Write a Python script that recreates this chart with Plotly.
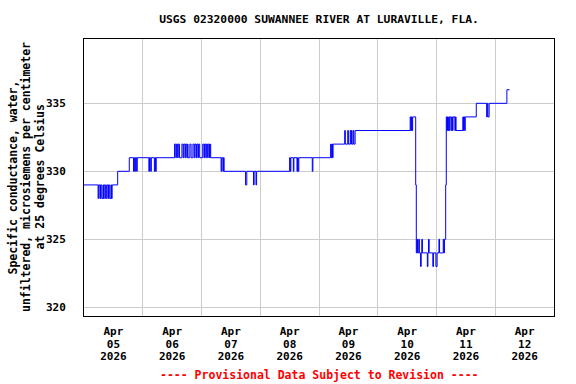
import plotly.graph_objects as go

# Specific conductance readings (change points of the step record)
times = [
    "2026-04-05 00:00", "2026-04-05 05:45", "2026-04-05 06:00", "2026-04-05 06:30", "2026-04-05 06:45",
    "2026-04-05 07:15", "2026-04-05 07:45", "2026-04-05 08:00", "2026-04-05 08:15", "2026-04-05 08:45",
    "2026-04-05 09:15", "2026-04-05 09:45", "2026-04-05 10:00", "2026-04-05 10:30", "2026-04-05 11:00",
    "2026-04-05 11:15", "2026-04-05 11:30", "2026-04-05 13:45", "2026-04-05 18:30", "2026-04-05 20:15",
    "2026-04-05 20:30", "2026-04-05 20:45", "2026-04-05 21:00", "2026-04-05 21:30", "2026-04-05 21:45",
    "2026-04-06 02:30", "2026-04-06 02:45", "2026-04-06 03:15", "2026-04-06 03:30", "2026-04-06 04:45",
    "2026-04-06 05:00", "2026-04-06 05:15", "2026-04-06 05:30", "2026-04-06 13:00", "2026-04-06 13:30",
    "2026-04-06 13:45", "2026-04-06 14:15", "2026-04-06 14:30", "2026-04-06 15:00", "2026-04-06 16:00",
    "2026-04-06 16:30", "2026-04-06 16:45", "2026-04-06 17:15", "2026-04-06 17:30", "2026-04-06 18:00",
    "2026-04-06 18:15", "2026-04-06 18:30", "2026-04-06 19:15", "2026-04-06 19:45", "2026-04-06 20:30",
    "2026-04-06 21:00", "2026-04-06 21:15", "2026-04-06 21:45", "2026-04-06 22:00", "2026-04-06 22:30",
    "2026-04-06 22:45", "2026-04-06 23:15", "2026-04-07 00:30", "2026-04-07 01:00", "2026-04-07 01:15",
    "2026-04-07 01:45", "2026-04-07 02:00", "2026-04-07 02:30", "2026-04-07 02:45", "2026-04-07 03:15",
    "2026-04-07 03:30", "2026-04-07 03:45", "2026-04-07 08:00", "2026-04-07 08:15", "2026-04-07 08:45",
    "2026-04-07 09:00", "2026-04-07 09:15", "2026-04-07 18:00", "2026-04-07 18:30", "2026-04-07 21:15",
    "2026-04-07 21:30", "2026-04-07 22:15", "2026-04-07 22:30", "2026-04-08 12:00", "2026-04-08 12:15",
    "2026-04-08 12:30", "2026-04-08 13:30", "2026-04-08 13:45", "2026-04-08 15:00", "2026-04-08 15:15",
    "2026-04-08 15:30", "2026-04-08 15:45", "2026-04-08 21:15", "2026-04-08 21:30", "2026-04-09 04:45",
    "2026-04-09 05:00", "2026-04-09 05:15", "2026-04-09 05:30", "2026-04-09 05:45", "2026-04-09 10:30",
    "2026-04-09 10:45", "2026-04-09 11:45", "2026-04-09 12:00", "2026-04-09 12:45", "2026-04-09 13:00",
    "2026-04-09 13:15", "2026-04-09 13:30", "2026-04-09 14:00", "2026-04-09 14:15", "2026-04-09 14:45",
    "2026-04-10 13:15", "2026-04-10 13:30", "2026-04-10 13:45", "2026-04-10 14:00", "2026-04-10 14:15",
    "2026-04-10 15:30", "2026-04-10 15:45", "2026-04-10 16:00", "2026-04-10 16:15", "2026-04-10 16:45",
    "2026-04-10 17:00", "2026-04-10 17:30", "2026-04-10 17:45", "2026-04-10 18:00", "2026-04-10 18:15",
    "2026-04-10 20:15", "2026-04-10 20:30", "2026-04-10 20:45", "2026-04-10 21:00", "2026-04-10 22:30",
    "2026-04-10 22:45", "2026-04-10 23:45", "2026-04-11 00:15", "2026-04-11 01:00", "2026-04-11 01:15",
    "2026-04-11 02:45", "2026-04-11 03:00", "2026-04-11 03:15", "2026-04-11 03:45", "2026-04-11 04:00",
    "2026-04-11 04:15", "2026-04-11 04:30", "2026-04-11 04:45", "2026-04-11 05:00", "2026-04-11 05:15",
    "2026-04-11 05:30", "2026-04-11 06:00", "2026-04-11 06:15", "2026-04-11 06:30", "2026-04-11 06:45",
    "2026-04-11 07:30", "2026-04-11 07:45", "2026-04-11 08:00", "2026-04-11 10:45", "2026-04-11 11:00",
    "2026-04-11 11:15", "2026-04-11 11:30", "2026-04-11 11:45", "2026-04-11 16:15", "2026-04-11 20:30",
    "2026-04-11 20:45", "2026-04-11 21:00", "2026-04-11 21:30", "2026-04-12 04:45", "2026-04-12 05:50",
]

conductance = [
    329, 328, 329, 328, 329,
    328, 329, 328, 329, 328,
    329, 328, 329, 328, 329,
    328, 329, 330, 331, 330,
    331, 330, 331, 330, 331,
    330, 331, 330, 331, 330,
    331, 330, 331, 332, 331,
    332, 331, 332, 331, 332,
    331, 332, 331, 332, 331,
    332, 331, 332, 331, 332,
    331, 332, 331, 332, 331,
    332, 331, 332, 331, 332,
    331, 332, 331, 332, 331,
    332, 331, 330, 331, 330,
    331, 330, 329, 330, 329,
    330, 329, 330, 331, 330,
    331, 330, 331, 330, 331,
    330, 331, 330, 331, 332,
    331, 332, 331, 332, 333,
    332, 333, 332, 333, 332,
    333, 332, 333, 332, 333,
    334, 333, 334, 333, 334,
    329, 324, 325, 324, 325,
    324, 323, 324, 325, 324,
    323, 324, 325, 324, 323,
    324, 323, 324, 325, 324,
    325, 324, 325, 329, 334,
    333, 334, 333, 334, 333,
    334, 333, 334, 333, 334,
    333, 334, 333, 334, 333,
    334, 333, 334, 335, 334,
    335, 334, 335, 336, 336,
]

x_range = ["2026-04-05 00:00", "2026-04-13 00:00"]
y_range = [319.36, 339.73]
y_ticks = [320, 325, 330, 335]

title_text = "USGS 02320000 SUWANNEE RIVER AT LURAVILLE, FLA."
y_title_lines = [
    "Specific conductance, water,",
    "unfiltered, microsiemens per centimeter",
    "at 25 degrees Celsius",
]
footer = "---- Provisional Data Subject to Revision ----"

FONT = "DejaVu Sans Mono"
tick_font = dict(family=FONT, size=11, color="black", weight="bold")

fig = go.Figure()
fig.add_trace(go.Scatter(
    x=times, y=conductance, mode="lines",
    line=dict(color="#0000FF", width=1, shape="hv"),
    hoverinfo="skip",
))
# invisible companions so the stacked date-label axes are drawn
for ax in ("x2", "x3"):
    fig.add_trace(go.Scatter(
        x=times, y=conductance, mode="lines", xaxis=ax,
        line=dict(width=0), opacity=0, hoverinfo="skip", showlegend=False,
    ))

fig.update_layout(
    width=576, height=384,
    margin=dict(l=84, r=22, t=39, b=68),
    paper_bgcolor="white", plot_bgcolor="white",
    showlegend=False,
    title=dict(
        text=title_text, x=0.5, xref="paper", xanchor="center",
        y=1 - 19 / 384, yref="container", yanchor="middle",
        font=dict(family=FONT, size=11.3, color="black", weight="bold"),
    ),
)

common_x = dict(
    type="date", range=x_range,
    tick0="2026-04-05", dtick=86400000, ticklabelmode="period",
    ticks="", zeroline=False, tickfont=tick_font,
)

fig.update_layout(
    xaxis=dict(
        **common_x, tickformat="%b", ticklabelstandoff=5,
        showgrid=True, gridcolor="#cccccc", gridwidth=1,
        showline=True, linecolor="black", linewidth=1, mirror=True,
    ),
    xaxis2=dict(
        **common_x, tickformat="%d", ticklabelstandoff=20,
        overlaying="x", side="bottom", showgrid=False, showline=False,
    ),
    xaxis3=dict(
        **common_x, tickformat="%Y", ticklabelstandoff=32,
        overlaying="x", side="bottom", showgrid=False, showline=False,
    ),
    yaxis=dict(
        range=y_range, tickvals=y_ticks,
        showgrid=True, gridcolor="#cccccc", gridwidth=1,
        showline=True, linecolor="black", linewidth=1, mirror=True,
        ticks="", zeroline=False, ticklabelstandoff=15,
        tickfont=tick_font,
    ),
)

# y-axis title: three stacked rotated lines
for i, line in enumerate(y_title_lines):
    fig.add_annotation(
        text=line, textangle=-90, showarrow=False,
        xref="paper", yref="paper", x=(12 + 13.5 * i - 84) / 470, y=0.5,
        xanchor="center", yanchor="middle",
        font=dict(family=FONT, size=11.5, color="black", weight="bold"),
    )

fig.add_annotation(
    text=footer, showarrow=False,
    xref="paper", yref="paper", x=0.5, y=(316 - 375) / 277,
    xanchor="center", yanchor="middle",
    font=dict(family=FONT, size=11.5, color="#FF0000", weight="bold"),
)

fig.write_html(
    "out.html",
    config={"displayModeBar": False},
    post_script="document.body.style.margin='0';",
)
